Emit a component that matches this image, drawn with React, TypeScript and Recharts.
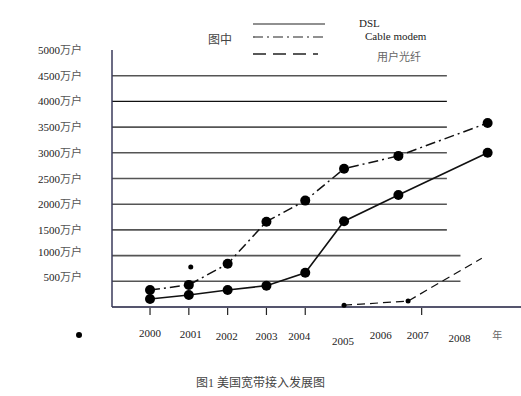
import {
  LineChart,
  Line,
  XAxis,
  YAxis,
  ReferenceLine,
  ReferenceDot,
  Legend,
} from "recharts";

// years / values (万户)
const dslYears = [2000, 2001, 2002, 2003, 2004, 2005, 2006.4, 2008.7];
const dslValues = [155, 235, 330, 415, 665, 1670, 2180, 3000];
const cableYears = [2000, 2001, 2002, 2003, 2004, 2005, 2006.4, 2008.7];
const cableValues = [330, 430, 840, 1660, 2070, 2690, 2940, 3580];
const fiberYears = [2005, 2006.65, 2008.55];
const fiberValues = [35, 115, 950];

const xTicks = [2000, 2001, 2002, 2003, 2004, 2005, 2006, 2007, 2008, 2009];
const xLabels = ["2000", "2001", "2002", "2003", "2004", "2005", "2006", "2007", "2008", "年"];
const yTicks = [500, 1000, 1500, 2000, 2500, 3000, 3500, 4000, 4500, 5000];
const gridValues = [500, 1000, 1500, 2000, 2500, 3000, 3500, 4000, 4500];
const gridEnds = [2008, 2008, 2007.65, 2007.65, 2007.65, 2007.65, 2007.65, 2007.65, 2007.65];

// stray specks in the scan
const strayDots = [
  { x: 2001.05, y: 780 },
  { x: 1998.17, y: -545 },
];

const dslData = dslYears.map((x, i) => ({ x, v: dslValues[i] }));
const cableData = cableYears.map((x, i) => ({ x, v: cableValues[i] }));
const fiberData = fiberYears.map((x, i) => ({ x, v: fiberValues[i] }));

const FONT = "'Liberation Serif', 'Noto Sans CJK SC', serif";

// per-label nudges, the scan's labels are not lined up
const labelDx = [0, 2, -1, 0, -6, -1, -2, -4, -1, -2];
const labelDy = [0, 1, 3, 3, 3, 8, 2, 2, 5, 2];
const markedTicks = [2000, 2001, 2002, 2003, 2004, 2007];

const XTick = (props: any) => {
  const { x, y, payload, index } = props;
  const isUnit = index === xLabels.length - 1;
  return (
    <g>
      {markedTicks.includes(payload.value) && (
        <line x1={x} x2={x} y1={y - 7} y2={y} stroke="#222" strokeWidth={1.2} />
      )}
      <text
        x={x + labelDx[index]}
        y={y + 22 + labelDy[index]}
        textAnchor="middle"
        fontSize={isUnit ? 10 : 11}
        fontFamily={FONT}
        fill={isUnit ? "#666" : "#222"}
      >
        {xLabels[index]}
      </text>
    </g>
  );
};

const YTick = (props: any) => {
  const { x, y, payload } = props;
  const nudge = payload.value <= 1000 ? -4 : 0;
  return (
    <text
      x={x}
      y={y + 4 + nudge}
      textAnchor="end"
      fontSize={11}
      fontFamily={FONT}
      fill="#222"
    >
      {payload.value}
      <tspan fill="#555">万户</tspan>
    </text>
  );
};

const FiberDot = (props: any) => {
  const { cx, cy, index } = props;
  if (index >= 2) return <g key={index} />;
  return <circle key={index} cx={cx} cy={cy} r={2.5} fill="#000" />;
};

const LegendBox = () => (
  <svg width={521} height={70} style={{ display: "block" }}>
    <text x={208} y={44} fontSize={12} fontFamily={FONT} fill="#444">
      图中
    </text>
    <line x1={253} x2={325} y1={24} y2={24} stroke="#222" strokeWidth={1.2} />
    <line x1={253} x2={323} y1={37} y2={37} stroke="#222" strokeWidth={1.2} strokeDasharray="10 4 2 4" />
    <line x1={253} x2={318} y1={54} y2={54} stroke="#222" strokeWidth={1.4} strokeDasharray="13 7" />
    <text x={359} y={27} fontSize={11} fontFamily={FONT} fill="#222">
      DSL
    </text>
    <text x={365} y={40} fontSize={11} fontFamily={FONT} fill="#222">
      Cable modem
    </text>
    <text x={377} y={61} fontSize={11} fontFamily={FONT} fill="#666">
      用户光纤
    </text>
  </svg>
);

export default function App() {
  return (
    <div
      style={{
        position: "absolute",
        left: 0,
        top: 0,
        width: 521,
        height: 396,
        background: "#fff",
      }}
    >
      <LineChart
        width={521}
        height={396}
        margin={{ top: 50, right: 0, left: 0, bottom: 59 }}
      >
        <XAxis
          type="number"
          dataKey="x"
          domain={[1999.02, 2009.56]}
          ticks={xTicks}
          allowDataOverflow
          axisLine={{ stroke: "#1c1c3c", strokeWidth: 1.5 }}
          tickLine={false}
          tick={<XTick />}
          height={30}
        />
        <YAxis
          type="number"
          dataKey="v"
          domain={[0, 5000]}
          ticks={yTicks}
          width={112}
          axisLine={{ stroke: "#3a3a5a", strokeWidth: 1.5 }}
          tickLine={false}
          tick={<YTick />}
          tickMargin={24}
        />
        <Legend
          layout="horizontal"
          verticalAlign="middle"
          align="center"
          wrapperStyle={{ top: 0, left: 0, width: 521, height: 70 }}
          content={() => <LegendBox />}
        />
        {gridValues.map((g, i) => (
          <ReferenceLine
            key={g}
            segment={[
              { x: 1999.02, y: g },
              { x: gridEnds[i], y: g },
            ]}
            stroke={g === 4000 ? "#111" : "#555"}
            strokeWidth={g === 4000 ? 1.1 : 1.6}
          />
        ))}
        <Line
          data={dslData}
          dataKey="v"
          stroke="#111"
          strokeWidth={1.6}
          dot={{ r: 5, fill: "#000", stroke: "#000", strokeWidth: 0 }}
          isAnimationActive={false}
        />
        <Line
          data={cableData}
          dataKey="v"
          stroke="#111"
          strokeWidth={1.5}
          strokeDasharray="10 4 2 4"
          dot={{ r: 5, fill: "#000", stroke: "#000", strokeWidth: 0 }}
          isAnimationActive={false}
        />
        <Line
          data={fiberData}
          dataKey="v"
          stroke="#111"
          strokeWidth={1.2}
          strokeDasharray="8 5"
          dot={<FiberDot />}
          isAnimationActive={false}
        />
        {strayDots.map((d, i) => (
          <ReferenceDot
            key={i}
            x={d.x}
            y={d.y}
            r={i === 0 ? 2.5 : 3}
            fill="#000"
            stroke="none"
            ifOverflow="visible"
          />
        ))}
      </LineChart>
      <div
        style={{
          position: "absolute",
          left: 0,
          top: 373,
          width: 521,
          textAlign: "center",
          fontSize: 12,
          fontFamily: FONT,
          color: "#444",
        }}
      >
        图1 美国宽带接入发展图
      </div>
    </div>
  );
}
